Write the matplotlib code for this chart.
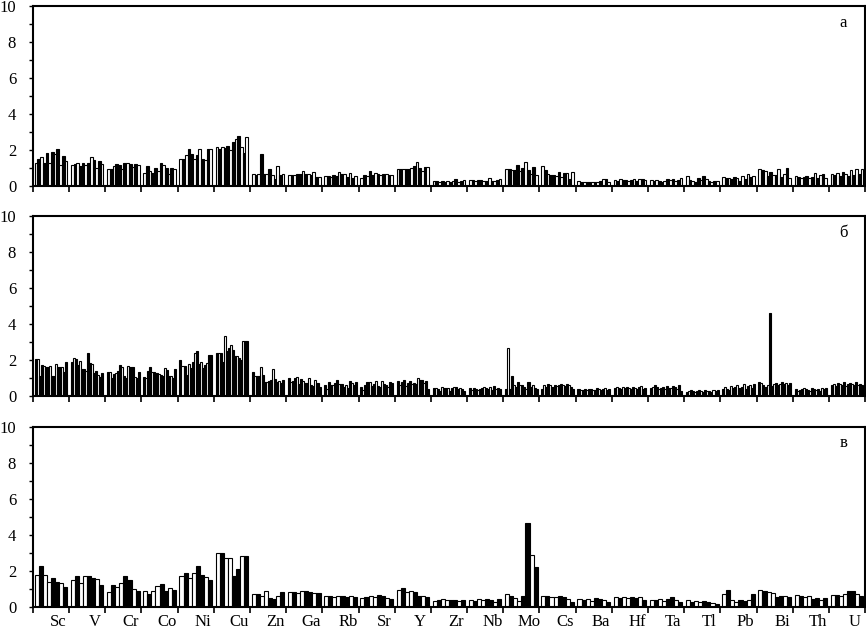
import numpy as np
import matplotlib.pyplot as plt

plt.rcParams['font.family'] = ['Liberation Serif', 'DejaVu Serif']

elements = ['Sc', 'V', 'Cr', 'Co', 'Ni', 'Cu', 'Zn', 'Ga', 'Rb', 'Sr', 'Y', 'Zr',
            'Nb', 'Mo', 'Cs', 'Ba', 'Hf', 'Ta', 'Tl', 'Pb', 'Bi', 'Th', 'U']

# panel "а" - 12 samples per element
vals_a = [
    [1.3, 1.5, 1.6, 1.3, 1.85, 1.3, 1.9, 1.8, 2.05, 1.15, 1.7, 1.4],
    [1.15, 1.25, 1.3, 1.1, 1.3, 1.15, 1.3, 1.6, 1.45, 1.0, 1.4, 1.25],
    [0.95, 0.95, 1.1, 1.25, 1.15, 0.95, 1.3, 1.3, 1.25, 1.05, 1.25, 1.2],
    [0.75, 1.1, 0.85, 0.75, 1.0, 0.85, 1.3, 1.15, 1.0, 0.65, 1.0, 0.95],
    [1.5, 1.5, 1.75, 2.05, 1.8, 1.5, 1.75, 2.05, 1.5, 1.45, 2.05, 2.05],
    [2.2, 2.05, 2.15, 2.1, 2.25, 2.0, 2.45, 2.6, 2.8, 2.2, 1.85, 2.75],
    [0.65, 0.6, 0.65, 1.8, 0.65, 0.65, 0.95, 0.6, 0.4, 1.1, 0.6, 0.65],
    [0.6, 0.6, 0.6, 0.65, 0.65, 0.85, 0.7, 0.65, 0.6, 0.8, 0.5, 0.5],
    [0.55, 0.55, 0.5, 0.6, 0.55, 0.8, 0.65, 0.7, 0.5, 0.75, 0.45, 0.55],
    [0.45, 0.6, 0.55, 0.85, 0.6, 0.75, 0.7, 0.6, 0.65, 0.65, 0.6, 0.6],
    [0.95, 0.95, 0.95, 0.95, 0.95, 1.0, 1.1, 1.35, 1.0, 0.85, 1.05, 1.05],
    [0.3, 0.3, 0.25, 0.3, 0.25, 0.3, 0.25, 0.3, 0.4, 0.25, 0.3, 0.35],
    [0.35, 0.35, 0.3, 0.35, 0.35, 0.3, 0.3, 0.45, 0.3, 0.3, 0.35, 0.4],
    [0.95, 0.95, 0.9, 0.9, 1.15, 0.85, 1.0, 1.35, 0.9, 0.7, 1.05, 0.6],
    [1.1, 0.9, 0.65, 0.6, 0.6, 0.55, 0.8, 0.5, 0.75, 0.75, 0.4, 0.8],
    [0.3, 0.25, 0.25, 0.25, 0.25, 0.25, 0.25, 0.25, 0.3, 0.4, 0.4, 0.25],
    [0.35, 0.3, 0.4, 0.35, 0.35, 0.3, 0.35, 0.4, 0.3, 0.4, 0.4, 0.35],
    [0.35, 0.3, 0.35, 0.3, 0.25, 0.3, 0.4, 0.35, 0.4, 0.3, 0.35, 0.45],
    [0.55, 0.35, 0.3, 0.25, 0.45, 0.35, 0.55, 0.4, 0.3, 0.25, 0.3, 0.3],
    [0.5, 0.45, 0.45, 0.4, 0.5, 0.45, 0.3, 0.55, 0.4, 0.65, 0.5, 0.55],
    [0.95, 0.9, 0.85, 0.55, 0.8, 0.6, 0.6, 0.95, 0.5, 0.65, 1.0, 0.45],
    [0.55, 0.5, 0.45, 0.5, 0.55, 0.45, 0.5, 0.75, 0.45, 0.6, 0.7, 0.45],
    [0.7, 0.6, 0.75, 0.55, 0.8, 0.7, 0.55, 0.9, 0.6, 0.95, 0.7, 0.95],
]
colors_a = ['w', 'k', 'w', 'k', 'k', 'w', 'k', 'w', 'k', 'w', 'k', 'w']

# panel "б" - 16 samples per element
vals_b = [
    [2.05, 2.05, 1.15, 1.75, 1.7, 1.65, 1.65, 1.7, 1.15, 1.1, 1.8, 1.65, 1.6, 1.6, 1.35, 1.9],
    [1.9, 2.15, 2.05, 1.75, 1.95, 1.5, 1.5, 1.4, 2.4, 1.85, 1.8, 1.3, 1.4, 1.2, 1.05, 1.3],
    [1.35, 1.35, 1.0, 1.25, 1.3, 1.4, 1.75, 1.6, 1.15, 1.0, 1.7, 1.6, 1.6, 1.05, 1.0, 1.35],
    [1.05, 1.0, 1.4, 1.6, 1.35, 1.35, 1.3, 1.25, 1.2, 1.1, 1.55, 1.45, 1.1, 1.1, 1.0, 1.5],
    [2.0, 1.7, 1.7, 1.2, 1.8, 1.55, 1.9, 2.4, 2.5, 1.8, 1.9, 1.55, 1.75, 1.85, 2.3, 2.3],
    [2.4, 2.4, 2.4, 1.9, 3.35, 2.5, 2.7, 2.85, 2.6, 2.25, 2.25, 2.15, 2.0, 3.05, 3.05, 3.05],
    [1.35, 1.1, 1.1, 1.1, 1.6, 1.2, 0.8, 0.8, 0.85, 0.9, 1.5, 0.95, 0.8, 0.85, 0.75, 0.9],
    [1.0, 0.8, 0.85, 1.0, 1.05, 0.7, 0.95, 0.85, 0.75, 0.75, 1.0, 0.6, 0.55, 0.9, 0.75, 0.5],
    [0.6, 0.4, 0.8, 0.65, 0.6, 0.75, 0.9, 0.7, 0.7, 0.5, 0.6, 0.45, 0.85, 0.75, 0.6, 0.8],
    [0.5, 0.35, 0.6, 0.8, 0.8, 0.55, 0.7, 0.85, 0.55, 0.5, 0.85, 0.7, 0.65, 0.5, 0.8, 0.75],
    [0.85, 0.6, 0.8, 0.9, 0.55, 0.75, 0.85, 0.7, 0.75, 0.7, 1.0, 0.9, 0.9, 0.75, 0.85, 0.4],
    [0.45, 0.45, 0.4, 0.3, 0.5, 0.45, 0.45, 0.45, 0.3, 0.45, 0.5, 0.5, 0.4, 0.45, 0.4, 0.3],
    [0.45, 0.35, 0.45, 0.4, 0.35, 0.4, 0.45, 0.5, 0.45, 0.4, 0.5, 0.35, 0.55, 0.4, 0.45, 0.4],
    [0.4, 2.7, 0.4, 1.1, 0.6, 0.5, 0.8, 0.6, 0.6, 0.5, 0.4, 0.8, 0.5, 0.6, 0.45, 0.4],
    [0.4, 0.6, 0.5, 0.7, 0.6, 0.5, 0.6, 0.55, 0.6, 0.7, 0.6, 0.55, 0.7, 0.6, 0.5, 0.4],
    [0.4, 0.35, 0.35, 0.4, 0.35, 0.4, 0.4, 0.35, 0.35, 0.45, 0.4, 0.35, 0.4, 0.45, 0.35, 0.4],
    [0.45, 0.5, 0.45, 0.4, 0.5, 0.45, 0.5, 0.45, 0.4, 0.5, 0.45, 0.4, 0.5, 0.55, 0.4, 0.45],
    [0.45, 0.5, 0.6, 0.5, 0.4, 0.45, 0.5, 0.4, 0.55, 0.45, 0.45, 0.55, 0.5, 0.4, 0.6, 0.3],
    [0.25, 0.3, 0.35, 0.3, 0.25, 0.3, 0.35, 0.3, 0.25, 0.35, 0.3, 0.3, 0.25, 0.35, 0.3, 0.35],
    [0.4, 0.5, 0.4, 0.35, 0.55, 0.45, 0.5, 0.6, 0.45, 0.5, 0.7, 0.4, 0.55, 0.6, 0.45, 0.7],
    [0.8, 0.75, 0.6, 0.5, 0.65, 4.65, 0.55, 0.7, 0.75, 0.6, 0.7, 0.8, 0.7, 0.75, 0.6, 0.75],
    [0.4, 0.3, 0.35, 0.4, 0.45, 0.4, 0.35, 0.3, 0.45, 0.4, 0.35, 0.4, 0.3, 0.45, 0.4, 0.45],
    [0.6, 0.7, 0.55, 0.75, 0.7, 0.6, 0.8, 0.55, 0.7, 0.75, 0.7, 0.65, 0.8, 0.6, 0.7, 0.6],
]
colors_b = ['k', 'w', 'k', 'k', 'w', 'k', 'k', 'w', 'k', 'k', 'w', 'k', 'k', 'w', 'k', 'k']

# panel "в" - 8 samples per element
vals_c = [
    [1.8, 2.3, 1.8, 1.4, 1.6, 1.4, 1.35, 1.1],
    [1.5, 1.75, 1.35, 1.7, 1.7, 1.6, 1.55, 1.2],
    [0.85, 1.2, 1.1, 1.35, 1.75, 1.5, 1.0, 0.9],
    [0.9, 0.75, 0.9, 1.15, 1.3, 0.9, 1.05, 0.95],
    [1.7, 1.9, 1.6, 1.9, 2.3, 1.8, 1.65, 1.5],
    [3.0, 3.0, 2.75, 2.75, 1.75, 2.1, 2.85, 2.85],
    [0.7, 0.7, 0.6, 0.9, 0.5, 0.45, 0.6, 0.85],
    [0.85, 0.85, 0.8, 0.9, 0.9, 0.85, 0.8, 0.8],
    [0.6, 0.6, 0.55, 0.6, 0.6, 0.55, 0.6, 0.55],
    [0.5, 0.55, 0.6, 0.55, 0.65, 0.6, 0.5, 0.45],
    [0.95, 1.05, 0.85, 0.9, 0.85, 0.6, 0.6, 0.55],
    [0.35, 0.4, 0.45, 0.4, 0.4, 0.4, 0.35, 0.4],
    [0.4, 0.35, 0.45, 0.4, 0.45, 0.4, 0.3, 0.45],
    [0.7, 0.6, 0.5, 0.35, 0.6, 4.7, 2.9, 2.2],
    [0.6, 0.6, 0.55, 0.55, 0.6, 0.55, 0.45, 0.3],
    [0.45, 0.4, 0.45, 0.35, 0.5, 0.45, 0.4, 0.3],
    [0.55, 0.5, 0.55, 0.5, 0.55, 0.5, 0.55, 0.4],
    [0.4, 0.4, 0.45, 0.35, 0.45, 0.55, 0.4, 0.3],
    [0.4, 0.3, 0.35, 0.3, 0.35, 0.3, 0.25, 0.15],
    [0.75, 0.95, 0.4, 0.3, 0.4, 0.35, 0.4, 0.7],
    [0.95, 0.9, 0.85, 0.8, 0.55, 0.6, 0.6, 0.55],
    [0.65, 0.6, 0.55, 0.6, 0.45, 0.5, 0.4, 0.5],
    [0.65, 0.65, 0.6, 0.7, 0.9, 0.9, 0.7, 0.6],
]
colors_c = ['w', 'k', 'w', 'w', 'k', 'k', 'w', 'k']

panels = [(vals_a, colors_a, 'а'), (vals_b, colors_b, 'б'), (vals_c, colors_c, 'в')]

fig = plt.figure(figsize=(8.66, 6.33), dpi=100)
bottoms = [0.706, 0.374, 0.041]
ng = len(elements)

for k in range(3):
    vals, cols, letter = panels[k]
    vals = np.array(vals)
    n = vals.shape[1]
    w = 0.9 / n
    ax = fig.add_axes([0.038, bottoms[k], 0.961, 0.284])
    for j in range(n):
        x = np.arange(ng) + 0.05 + (j + 0.5) * w
        ax.bar(x, vals[:, j], width=w, color=cols[j], edgecolor='black', linewidth=0.8)
    ax.set_xlim(0, ng)
    ax.set_ylim(0, 10)
    ax.set_yticks(np.arange(0, 11, 2))
    ax.set_yticks(np.arange(1, 10, 2), minor=True)
    ax.set_xticks(np.arange(0, ng + 1))
    ax.set_xticklabels([])
    if k == 2:
        ax.set_xticks(np.arange(ng) + 0.7, minor=True)
        ax.set_xticklabels(elements, minor=True, fontsize=12)
        ax.tick_params(axis='x', which='minor', length=0, pad=5)
    ax.tick_params(axis='x', which='major', direction='out', length=4, width=1.2)
    ax.tick_params(axis='y', which='both', direction='out', length=3, width=1.0,
                   labelsize=12, pad=9)
    for s in ax.spines.values():
        s.set_linewidth(1.5)
    ax.text(0.974, 0.91, letter, transform=ax.transAxes, fontsize=12,
            ha='center', va='center')

plt.savefig('out.png', dpi=100)
